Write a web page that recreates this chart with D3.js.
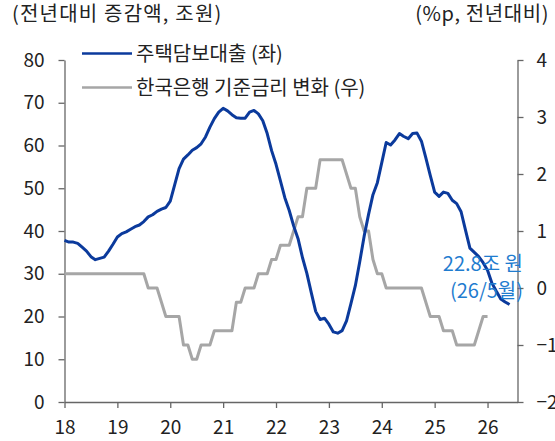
<!DOCTYPE html>
<html>
<head>
<meta charset="utf-8">
<script src="https://cdn.jsdelivr.net/npm/d3@7"></script>
<style>
body{margin:0;background:#fff;}
text{font-family:"Noto Sans CJK KR","Noto Sans",sans-serif;fill:#222;}
.axis path,.axis line{stroke:#666;stroke-width:1.3px;}
</style>
</head>
<body>
<svg id="chart" width="555" height="441"></svg>
<script>
// 주택담보대출 전년대비 증감액 (조원), 2017/12 ~ 2026/05, monthly
var mortgageChange = [
    37.8, 37.4, 37.4, 37.1, 36.2, 35.3, 34.0, 33.3, 33.6, 33.9, 35.3, 36.9, 38.6,
    39.4, 39.8, 40.4, 41.0, 41.4, 42.2, 43.3, 43.8, 44.6, 45.1, 45.5, 47.0,
    50.8, 54.6, 56.8, 57.8, 58.9, 59.5, 60.4, 62.0, 64.3, 66.3, 67.8, 68.7,
    68.1, 67.2, 66.5, 66.4, 66.4, 67.8, 68.2, 67.4, 65.8, 62.8, 58.8, 55.6,
    51.7, 47.8, 44.8, 41.2, 38.2, 33.8, 30.1, 25.6, 21.2, 19.3, 19.6, 18.2,
    16.4, 16.1, 16.7, 19.0, 23.0, 27.2, 32.8, 38.8, 43.9, 48.5, 51.3, 56.0,
    60.7, 60.1, 61.3, 62.8, 62.1, 61.6, 62.8, 62.9, 61.0, 57.1, 53.0, 49.1,
    48.1, 49.1, 48.8, 47.2, 46.4, 44.5, 40.2, 36.0, 35.0, 34.0, 32.6, 30.8,
    27.8, 25.9, 24.1, 23.4, 22.8
];

// 한국은행 기준금리 전년대비 변화 (%p), 2017/12 ~ 2025/12, monthly
var rateChange = [
    0.25,
    0.25, 0.25, 0.25, 0.25, 0.25, 0.25, 0.25, 0.25, 0.25, 0.25, 0.25, 0.25,
    0.25, 0.25, 0.25, 0.25, 0.25, 0.25, 0, 0, 0, -0.25, -0.5, -0.5,
    -0.5, -0.5, -1.0, -1.0, -1.25, -1.25, -1.0, -1.0, -1.0, -0.75, -0.75, -0.75,
    -0.75, -0.75, -0.25, -0.25, 0, 0, 0, 0.25, 0.25, 0.25, 0.5, 0.5,
    0.75, 0.75, 0.75, 1.0, 1.25, 1.25, 1.75, 1.75, 1.75, 2.25, 2.25, 2.25,
    2.25, 2.25, 2.25, 2.0, 1.75, 1.75, 1.25, 1.0, 1.0, 0.5, 0.25, 0.25,
    0, 0, 0, 0, 0, 0, 0, 0, 0, -0.25, -0.5, -0.5,
    -0.5, -0.75, -0.75, -0.75, -1.0, -1.0, -1.0, -1.0, -1.0, -0.75, -0.5, -0.5
];

var yearTicks = [2018, 2019, 2020, 2021, 2022, 2023, 2024, 2025, 2026];
var yearLabels = ["18", "19", "20", "21", "22", "23", "24", "25", "26"];
var leftTicks = [0, 10, 20, 30, 40, 50, 60, 70, 80];
var rightTicks = [-2, -1, 0, 1, 2, 3, 4];
var seriesNames = ["주택담보대출 (좌)", "한국은행 기준금리 변화 (우)"];
var leftTitle = "(전년대비 증감액, 조원)";
var rightTitle = "(%p, 전년대비)";
var lastNote = ["22.8조 원", "(26/5월)"];

var svg = d3.select("#chart");

var x = d3.scaleLinear().domain([2018, 2026 + 6.8 / 12]).range([64.5, 517.5]);
var yLeft = d3.scaleLinear().domain([0, 80]).range([402, 60]);
var yRight = d3.scaleLinear().domain([-2, 4]).range([402, 60]);

// first value is December 2017, drawn at month end (= 2018.0)
function monthPos(d, i){
    return x(2018 + i / 12);
}


/*
 *** Axes
 */
svg.append("g")
    .attr("class", "axis")
    .attr("transform", "translate(" + x.range()[0] + ",0)")
    .call(d3.axisLeft(yLeft).tickValues(leftTicks).tickSize(6).tickSizeOuter(0).tickPadding(14))
    .selectAll("text").style("font-size", "19px");

svg.append("g")
    .attr("class", "axis")
    .attr("transform", "translate(" + x.range()[1] + ",0)")
    .call(d3.axisRight(yRight).tickValues(rightTicks).tickSize(6).tickSizeOuter(0).tickPadding(13)
        .tickFormat(d3.format("d")))
    .selectAll("text").style("font-size", "19px");

svg.append("g")
    .attr("class", "axis")
    .attr("transform", "translate(0," + yLeft(0) + ")")
    .call(d3.axisBottom(x).tickValues(yearTicks).tickSize(6).tickSizeOuter(0).tickPadding(13)
        .tickFormat(function(d, i){ return yearLabels[i]; }))
    .selectAll("text").style("font-size", "19px");

svg.selectAll(".axis text").style("fill", "#222");


/*
 *** Lines
 */
var rateLine = d3.line()
    .x(monthPos)
    .y(function(d){ return yRight(d); });

var mortgageLine = d3.line()
    .x(monthPos)
    .y(function(d){ return yLeft(d); });

svg.append("path")
    .datum(rateChange)
    .attr("d", rateLine)
    .attr("fill", "none")
    .attr("stroke", "#a6a6a6")
    .attr("stroke-width", 3)
    .attr("stroke-linejoin", "round");

svg.append("path")
    .datum(mortgageChange)
    .attr("d", mortgageLine)
    .attr("fill", "none")
    .attr("stroke", "#0b3a9c")
    .attr("stroke-width", 3)
    .attr("stroke-linejoin", "round");


/*
 *** Titles, legend and note
 */
svg.append("text")
    .attr("x", 12)
    .attr("y", 21)
    .style("font-size", "20px")
    .style("letter-spacing", "1.2px")
    .text(leftTitle);

svg.append("text")
    .attr("x", 549)
    .attr("y", 21)
    .attr("text-anchor", "end")
    .style("font-size", "20px")
    .style("letter-spacing", "0.6px")
    .text(rightTitle);

var legendColors = ["#0b3a9c", "#a6a6a6"];
var legend = svg.selectAll(".legendItem")
    .data(seriesNames)
    .enter().append("g")
    .attr("class", "legendItem")
    .attr("transform", function(d, i){ return "translate(82," + (53.5 + i * 34) + ")"; });

legend.append("line")
    .attr("x1", 0).attr("x2", 50)
    .attr("stroke", function(d, i){ return legendColors[i]; })
    .attr("stroke-width", 2.5);

legend.append("text")
    .attr("x", 54)
    .attr("y", 7)
    .style("font-size", "20px")
    .text(function(d){ return d; });

svg.selectAll(".note")
    .data(lastNote)
    .enter().append("text")
    .attr("class", "note")
    .attr("x", 523)
    .attr("y", function(d, i){ return 271 + i * 27; })
    .attr("text-anchor", "end")
    .style("font-size", "20px")
    .style("fill", "#1f7ccf")
    .text(function(d){ return d; });
</script>
</body>
</html>
